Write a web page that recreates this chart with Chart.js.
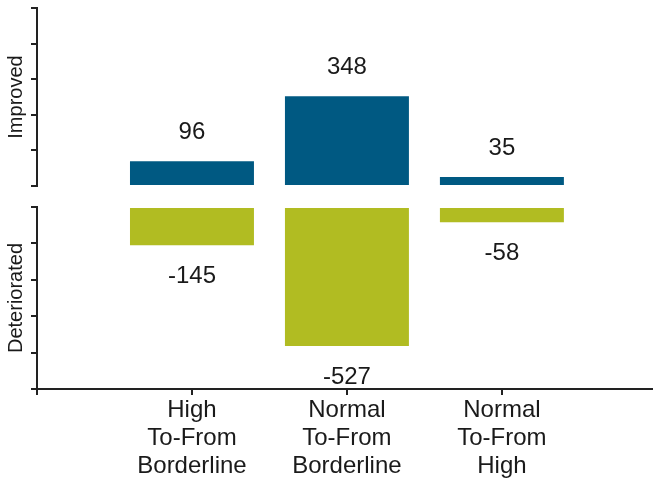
<!doctype html>
<html lang="en">
<head>
<meta charset="UTF-8" />
<title>Improved / Deteriorated</title>
<script src="https://cdn.jsdelivr.net/npm/chart.js"></script>
<style>
  body { margin: 0; background: #fff; }
  #improvedChart { position: absolute; left: 0; top: 0; }
  #deterioratedChart { position: absolute; left: 0; top: 195px; }
</style>
</head>
<body>
<canvas id="improvedChart" width="653" height="190"></canvas>
<canvas id="deterioratedChart" width="653" height="292"></canvas>
<script>
const categories = [
  ["High", "To-From", "Borderline"],
  ["Normal", "To-From", "Borderline"],
  ["Normal", "To-From", "High"],
];
const improved = [96, 348, 35];
const deteriorated = [-145, -527, -58];

const FONT = '"Liberation Sans", Arial, sans-serif';
const axisColor = "#222";
const textColor = "#1a1a1a";

// draws the value above / below each bar
const valueLabels = {
  id: "valueLabels",
  afterDatasetsDraw(chart) {
    const ctx = chart.ctx;
    ctx.save();
    ctx.font = "24px " + FONT;
    ctx.fillStyle = textColor;
    ctx.textAlign = "center";
    ctx.textBaseline = "middle";
    chart.getDatasetMeta(0).data.forEach((bar, i) => {
      const v = chart.data.datasets[0].data[i].y;
      const y = v >= 0 ? bar.y - 29 : bar.y + 31;
      ctx.fillText(String(v), bar.x, y);
    });
    ctx.restore();
  },
};

function yAxis(min, max, title) {
  return {
    min: min,
    max: max,
    ticks: { display: false, stepSize: 138 },
    grid: { drawOnChartArea: false, drawTicks: true, tickLength: 6, color: axisColor, lineWidth: 2 },
    border: { color: axisColor, width: 2 },
    title: { display: true, text: title, color: textColor, font: { size: 20, family: FONT } },
    afterFit: (s) => { s.width = 37; },
  };
}

function xAxis(show) {
  const axis = {
    type: "linear",
    min: 0,
    max: 3.975,
    offset: false,
    display: show,
    ticks: {
      stepSize: 1,
      color: textColor,
      padding: 2,
      font: { size: 24, family: FONT, lineHeight: 1.15 },
      callback: (v) => categories[v - 1] || "",
    },
    // only whole positions get a tick (no extra one at the right edge)
    afterBuildTicks: (s) => { s.ticks = s.ticks.filter((t) => Number.isInteger(t.value)); },
    grid: { offset: false, drawOnChartArea: false, tickLength: 6, color: axisColor, lineWidth: 2 },
    border: { color: axisColor, width: 2 },
  };
  if (show) axis.afterFit = (s) => { s.height = 98; };
  return axis;
}

function makeChart(id, values, color, yMin, yMax, title, showX, pad) {
  return new Chart(document.getElementById(id), {
    type: "bar",
    data: {
      datasets: [{
        data: values.map((v, i) => ({ x: i + 1, y: v })),
        backgroundColor: color,
        barPercentage: 0.8,
        categoryPercentage: 1,
      }],
    },
    options: {
      responsive: false,
      animation: false,
      layout: { padding: pad },
      plugins: { legend: { display: false }, tooltip: { enabled: false } },
      scales: { x: xAxis(showX), y: yAxis(yMin, yMax, title) },
    },
    plugins: [valueLabels],
  });
}

makeChart("improvedChart", improved, "#005982", 0, 690, "Improved", false, { top: 8, bottom: 4, left: 0, right: 0 });
makeChart("deterioratedChart", deteriorated, "#b1bc22", -690, 0, "Deteriorated", true, { top: 12, bottom: 0, left: 0, right: 0 });
</script>
</body>
</html>
